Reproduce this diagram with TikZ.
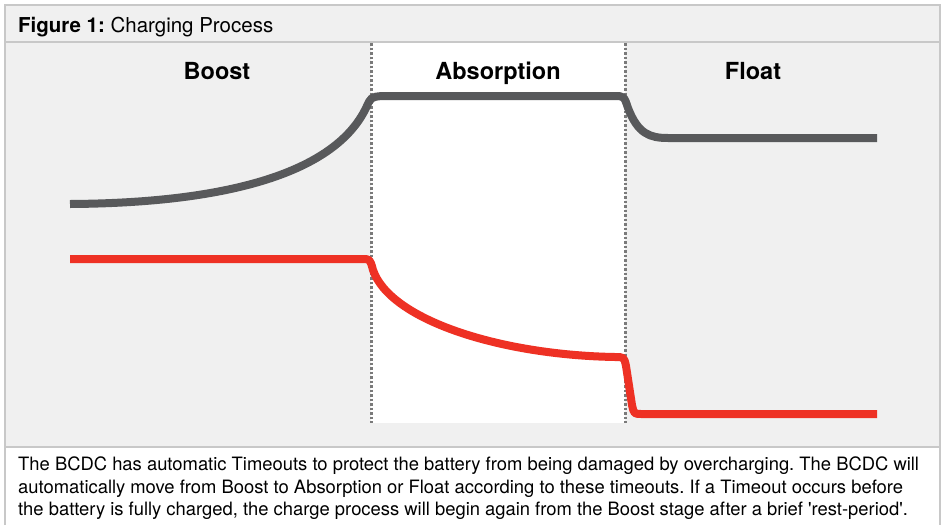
\documentclass[tikz,border=0pt]{standalone}
\usepackage{fontspec}
\setmainfont{TeX Gyre Heros}
\usepackage{tikz}
\usetikzlibrary{positioning}
\usetikzlibrary{calc}
\usepackage{xcolor}
\definecolor{panelgray}{HTML}{F0F0F0}
\definecolor{framegray}{HTML}{C8C8C8}
\definecolor{dotgray}{HTML}{7A7A7A}
\definecolor{voltgray}{HTML}{58595B}
\definecolor{ampred}{HTML}{EE3124}
\frenchspacing

\begin{document}
\begin{tikzpicture}[x=1pt,y=-1pt,
		stagelabel/.style={anchor=base,font=\fontsize{23.5}{26}\selectfont\bfseries},
		stageline/.style={dotgray,line width=3pt,dash pattern=on 2.5pt off 2pt},
		curve/.style={line width=8pt,line join=round}]
				\useasboundingbox (0,0) rectangle (944,525);
				\fill[white] (0,0) rectangle (944,525);
				\fill[panelgray] (5,5) rectangle (940,447);
				\fill[white] (371,42) rectangle (625,423);
				\draw[framegray,line width=1.5pt] (5,525) -- (5,5) -- (940,5) -- (940,525);
				\draw[framegray,line width=1.5pt] (5,42) -- (940,42);
				\draw[framegray,line width=1.5pt] (5,447) -- (940,447);
				\draw[stageline] (371,43) -- (371,423);
				\draw[stageline] (625,43) -- (625,423);
				\node[anchor=base west,inner sep=0pt,font=\fontsize{20.5}{24}\selectfont] (title) at (18,32) {\textbf{Figure 1:} Charging Process};
				\node[stagelabel] (boost) at (217,79) {Boost};
				\node[stagelabel] (absorption) at (498,79) {Absorption};
				\node[stagelabel] (float) at (753,79) {Float};
				% voltage
				\draw[curve,voltgray] (70,204) .. controls (230,203) and (335,172) .. (366,108)
					.. controls (371,97) .. (382,96) -- (614,96) .. controls (624,96) .. (628,108)
					.. controls (638,134) and (650,138) .. (668,138) -- (877,138);
				% current
				\draw[curve,ampred] (70,259) -- (362,259) .. controls (370,259) .. (373,270)
					.. controls (390,320) and (500,355) .. (615,357) .. controls (624,357) .. (626,366)
					-- (632,405) .. controls (634,414) .. (642,414) -- (877,414);
				\node[anchor=north west,align=left,inner sep=0pt,font=\fontsize{18.4}{22.5}\selectfont] (caption) at (18,457)
					{The BCDC has automatic Timeouts to protect the battery from being damaged by overcharging. The BCDC will\\
					automatically move from Boost to Absorption or Float according to these timeouts. If a Timeout occurs before\\
					the battery is fully charged, the charge process will begin again from the Boost stage after a brief \textquotesingle rest-period\textquotesingle.};
			\end{tikzpicture}
\end{document}
